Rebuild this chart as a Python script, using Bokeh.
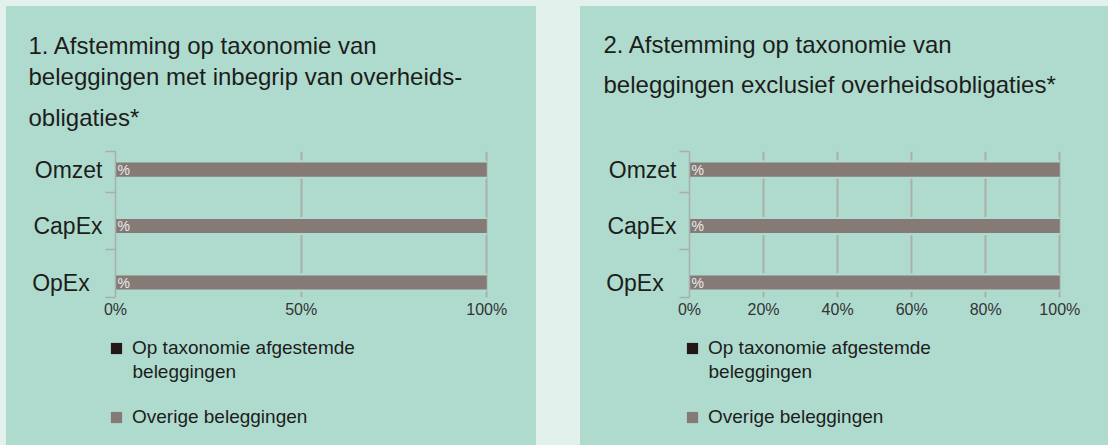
from bokeh.plotting import figure
from bokeh.models import (Range1d, FixedTicker, PrintfTickFormatter, Label, Legend,
                          LegendItem, ColumnDataSource)
from bokeh.layouts import row, column
from bokeh.embed import file_html
from bokeh.resources import INLINE
from bokeh.core.properties import value

# ---------------- data ----------------
categories = ["OpEx", "CapEx", "Omzet"]          # bottom -> top
aligned_1 = [0, 0, 0]
other_1 = [100, 100, 100]
aligned_2 = [0, 0, 0]
other_2 = [100, 100, 100]
bar_labels = ["%", "%", "%"]
ticks_1 = [0, 50, 100]
ticks_2 = [0, 20, 40, 60, 80, 100]
titles_1 = ["1. Afstemming op taxonomie van",
            "beleggingen met inbegrip van overheids-",
            "obligaties*"]
titles_2 = ["2. Afstemming op taxonomie van",
            "beleggingen exclusief overheidsobligaties*"]
series_names = ["Op taxonomie afgestemde", "Overige beleggingen"]
series_name_cont = "beleggingen"   # second line of the first legend entry
series_colors = ["#231815", "#857a76"]

# ---------------- style ----------------
OUTER = "#e3f1ed"
PANEL = "#afdbcf"
GRID = "#a9aeab"
TEXT = "#1d1d1b"
FONT = "Liberation Sans"
Y_LO, Y_HI = -0.265, 2.32
BRACKET_OFF = 0.59
BAR_H = 0.25
X_END = 101
TITLE_H, CHART_H, LEGEND_H = 143, 185, 111
GLYPH = 14
STANDOFF = 9
LABEL_PAD = {"OpEx": "\u2007"}   # visual left-alignment of the category labels


def blank_fig(width, height, **kw):
    f = figure(width=width, height=height, output_backend="svg", toolbar_location=None,
               x_axis_location=None, y_axis_location=None,
               background_fill_color=PANEL, border_fill_color=PANEL,
               outline_line_color=None, frame_align=False, **kw)
    f.grid.visible = False
    return f


def make_panel(width, title_lines, title_pos, aligned, other, ticks, frame_px, legend_left):
    ys = list(range(len(categories)))
    totals = [a + o for a, o in zip(aligned, other)]
    src = ColumnDataSource(dict(y=ys, aligned=aligned, other=other, lab=bar_labels))

    # ---- title block ----
    t = blank_fig(width, TITLE_H, x_range=Range1d(0, 1), y_range=Range1d(0, 1),
                  min_border_left=0, min_border_right=0, min_border_top=0, min_border_bottom=0)
    tx, tys = title_pos
    for line, yy in zip(title_lines, tys):
        t.add_layout(Label(x=tx, y=yy, x_units="screen", y_units="screen",
                           text=line, text_font=FONT, text_font_size="24px",
                           text_color=TEXT, text_baseline="alphabetic"))

    # ---- chart ----
    fw = round(frame_px * X_END / 100)
    p = figure(width=width, height=CHART_H, output_backend="svg", toolbar_location=None,
               x_range=Range1d(0, X_END), y_range=Range1d(Y_LO, Y_HI),
               min_border_left=109, min_border_right=width - 109 - fw,
               min_border_top=2, min_border_bottom=37, frame_align=False,
               background_fill_color=PANEL, border_fill_color=PANEL,
               outline_line_color=None)
    p.ygrid.visible = False
    p.xgrid.ticker = FixedTicker(ticks=ticks)
    p.xgrid.grid_line_color = GRID
    p.xgrid.grid_line_width = 2

    p.hbar(y=ys, left=0, right=totals, height=BAR_H * 1.3,
           fill_color=PANEL, line_color=None)
    p.hbar_stack(["aligned", "other"], y="y", height=BAR_H,
                 fill_color=series_colors, line_color=None, source=src)
    p.text(x=0, y="y", text="lab", source=src, x_offset=2,
           text_font=value(FONT), text_font_size="14px", text_color="#ebebeb",
           text_baseline="middle", text_align="left")

    xa = p.xaxis[0]
    xa.ticker = FixedTicker(ticks=ticks)
    xa.formatter = PrintfTickFormatter(format="%d%%")
    xa.axis_line_color = None
    xa.major_tick_line_color = None
    xa.minor_tick_line_color = None
    xa.major_tick_out = 0
    xa.major_tick_in = 0
    xa.minor_tick_out = 0
    xa.major_label_standoff = 3
    xa.major_label_text_font = FONT
    xa.major_label_text_font_size = "16px"
    xa.major_label_text_color = "#333333"

    ya = p.yaxis[0]
    eps = 0.003
    ya.ticker = FixedTicker(ticks=ys,
                            minor_ticks=[Y_LO + eps] + [i + BRACKET_OFF for i in ys[:-1]] + [Y_HI - eps])
    ya.major_label_overrides = {i: c + LABEL_PAD.get(c, "") for i, c in zip(ys, categories)}
    ya.major_tick_line_color = None
    ya.major_tick_out = 0
    ya.major_tick_in = 0
    ya.minor_tick_out = 10
    ya.minor_tick_in = 0
    ya.minor_tick_line_color = GRID
    ya.minor_tick_line_width = 1.5
    ya.axis_line_color = GRID
    ya.axis_line_width = 1.5
    ya.major_label_standoff = 3
    ya.major_label_text_font = FONT
    ya.major_label_text_font_size = "23px"
    ya.major_label_text_color = TEXT

    # ---- legend block ----
    lg = blank_fig(width, LEGEND_H, x_range=Range1d(0, 1), y_range=Range1d(0, 1),
                   min_border_left=legend_left, min_border_right=0,
                   min_border_top=3, min_border_bottom=0)
    lrs = lg.hbar_stack(["aligned", "other"], y="y", height=BAR_H,
                        fill_color=series_colors, line_color=None, source=src, visible=False)
    legend = Legend(items=[LegendItem(label=series_names[0], renderers=[lrs[0]]),
                           LegendItem(label=series_names[1], renderers=[lrs[1]])],
                    location="top_left", glyph_width=GLYPH, glyph_height=GLYPH,
                    label_height=22,
                    label_text_font=FONT, label_text_font_size="19px",
                    label_text_color=TEXT, label_standoff=STANDOFF, spacing=47,
                    padding=0, margin=0, border_line_color=None,
                    background_fill_alpha=0, inactive_fill_alpha=0)
    lg.add_layout(legend)
    lg.add_layout(Label(x=GLYPH + STANDOFF, y=74, x_units="screen", y_units="screen",
                        text=series_name_cont, text_font=FONT, text_font_size="19px",
                        text_color=TEXT, text_baseline="middle"))

    return column(t, p, lg, spacing=0, styles={"background-color": PANEL})


c1 = make_panel(530, titles_1, (22, [104, 73, 32]), aligned_1, other_1, ticks_1, 371, 103)
c2 = make_panel(528, titles_2, (23, [105, 65]), aligned_2, other_2, ticks_2, 370, 105)
c1.margin = (6, 0, 0, 6)
c2.margin = (6, 0, 0, 44)

layout = row(c1, c2, spacing=0, styles={"background-color": OUTER})

open("out.html", "w").write(file_html(layout, INLINE))
